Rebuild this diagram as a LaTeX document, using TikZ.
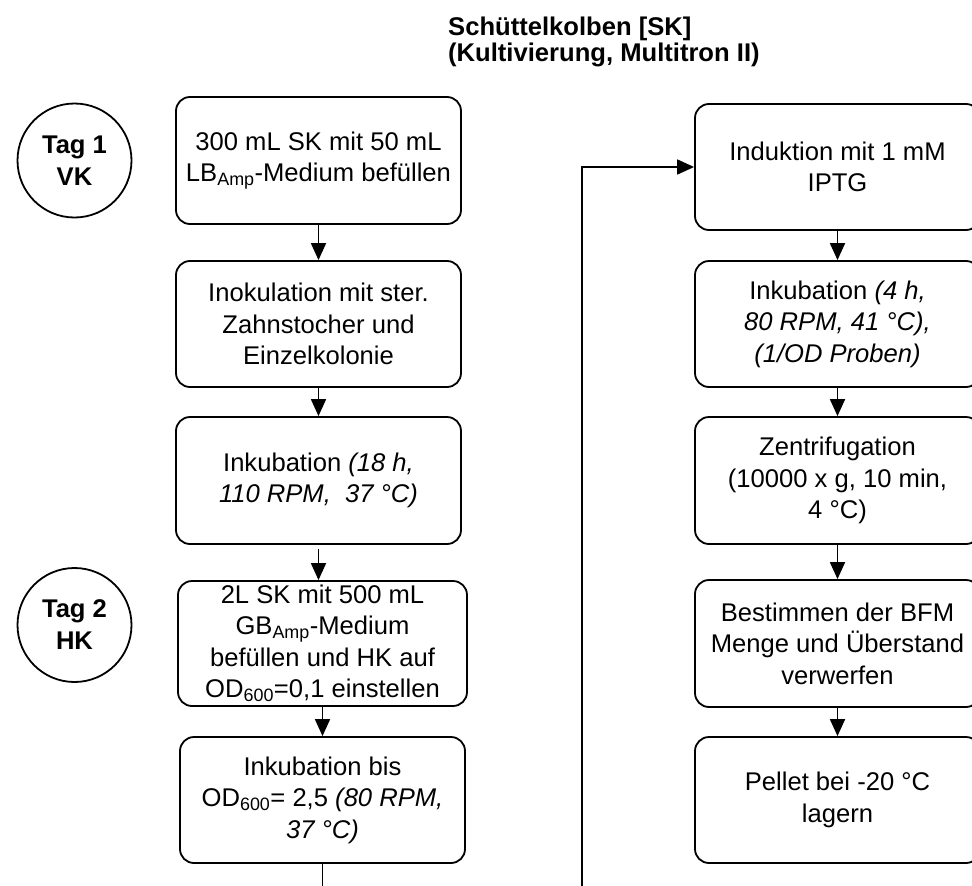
\documentclass[tikz,border=0pt]{standalone}
\usepackage{fontspec}
\setmainfont{Liberation Sans}
\usetikzlibrary{arrows.meta}
\begin{document}
\begin{tikzpicture}[x=1pt,y=-1pt,
  every node/.style={font=\fontsize{25.6}{31.5}\selectfont},
  stepbox/.style={draw, line width=1.8pt, rounded corners=14pt, align=center,
    inner sep=0pt, minimum width=285pt, minimum height=126pt},
  daybox/.style={draw, circle, line width=1.8pt, minimum size=114pt, inner sep=0pt,
    align=center, font=\fontsize{25.6}{32}\selectfont\bfseries},
  flow/.style={line width=1.8pt, -{Triangle[length=17pt,width=15pt]}},
  plain/.style={line width=1.8pt}]
\useasboundingbox (0,0) rectangle (972,886);
\clip (0,0) rectangle (972,886);

% heading
\node[anchor=north west, align=left, inner sep=0pt,
  font=\fontsize{25.6}{26}\selectfont\bfseries] (title) at (448,17)
  {Schüttelkolben [SK]\\(Kultivierung, Multitron II)};

% day markers
\node[daybox] (tag1) at (74.5,160.5) {Tag 1\\VK};
\node[daybox] (tag2) at (74.5,625) {Tag 2\\HK};

% left column
\node[stepbox, minimum height=127pt] (b1) at (318.5,160.5)
  {300 mL SK mit 50 mL\\LB\textsubscript{Amp}-Medium befüllen};
\node[stepbox] (b2) at (318.5,324)
  {Inokulation mit ster.\\Zahnstocher und\\Einzelkolonie};
\node[stepbox, minimum height=127pt] (b3) at (318.5,480.5)
  {Inkubation \textit{(18 h,}\\\textit{110 RPM,\ \ 37 °C)}};
\node[stepbox, minimum width=289pt, minimum height=125pt] (b4) at (322.5,643.5)
  {2L SK mit 500 mL\\GB\textsubscript{Amp}-Medium\\befüllen und HK auf\\OD\textsubscript{600}=0,1 einstellen};
\node[stepbox] (b5) at (322.5,800)
  {Inkubation bis\\OD\textsubscript{600}= 2,5 \textit{(80 RPM,}\\\textit{37 °C)}};

% right column
\node[stepbox] (b6) at (837.5,167)
  {Induktion mit 1 mM\\IPTG};
\node[stepbox] (b7) at (837.5,324)
  {Inkubation \textit{(4 h,}\\\textit{80 RPM, 41 °C),}\\\textit{(1/OD Proben)}};
\node[stepbox, minimum height=127pt] (b8) at (837.5,480.5)
  {Zentrifugation\\(10000 x g, 10 min,\\4 °C)};
\node[stepbox, minimum height=127pt] (b9) at (837.5,643.5)
  {Bestimmen der BFM\\Menge und Überstand\\verwerfen};
\node[stepbox] (b10) at (837.5,800)
  {Pellet bei -20 °C\\lagern};

% connectors
\coordinate (exitL) at (322.5,892);
\coordinate (loopin) at (582,892);
\draw[flow] (b1) -- (b2);
\draw[flow] (b2) -- (b3);
\draw[flow] ([yshift=-4pt]b3.south) -- (b3.south |- b4.north);
\draw[flow] (b4) -- (b5);
\draw[plain] (b5.south) -- (exitL);
\draw[flow] (loopin) |- (b6.west);
\draw[flow] (b6) -- (b7);
\draw[flow] (b7) -- (b8);
\draw[flow] (b8) -- (b9);
\draw[flow] (b9) -- (b10);
\end{tikzpicture}
\end{document}
